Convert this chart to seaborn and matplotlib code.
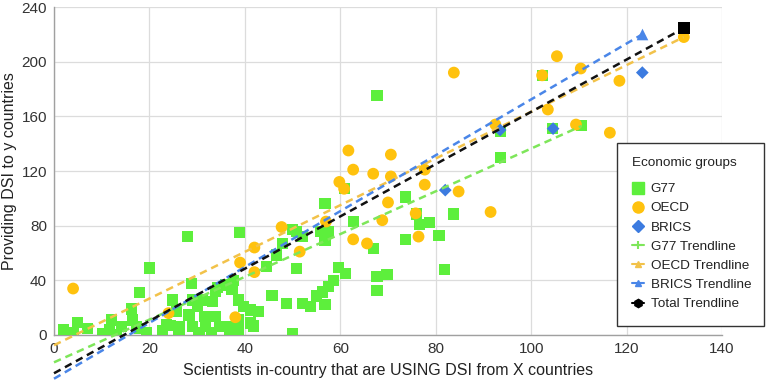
import numpy as np
import pandas as pd
import matplotlib
matplotlib.use("Agg")
import matplotlib.pyplot as plt
from matplotlib.lines import Line2D
from matplotlib.patches import Rectangle
import seaborn as sns

# ---------------- data ----------------
g77_x = [1.9, 5, 4, 7.1, 10.2, 12, 11.7, 13, 14.1, 16.5, 16.2, 17.9, 19.3, 17.2, 18, 20,
         22.7, 23.5, 24.9, 24.5, 28, 38.9, 28.9, 34.2, 36, 37.7, 33.9, 31.1, 30, 33.2,
         38.75, 39.8, 41.2, 42.9, 25.6, 28.3, 31.5, 33.9, 38.75, 41.2, 26.25, 29, 31.8,
         34.6, 36.7, 26.2, 30.4, 33.1, 36.7, 38.75, 41.9, 37.3, 29, 47.8, 49.9, 46.7,
         44.6, 45.7, 48.8, 49.9, 50.9, 52, 55.8, 57.5, 56.8, 56.8, 62.7, 66.9, 73.6,
         73.6, 75.9, 76.6, 78.7, 80.7, 83.7, 81.8, 50.9, 59.6, 61, 58.5, 57.5, 56.3,
         55.1, 56.8, 52, 53.7, 67.7, 69.8, 67.7, 60.8, 67.7, 93.5, 93.5, 104.5, 102.3,
         110.6]
g77_y = [4, 9, 1.5, 5, 1, 11, 4, 0, 6, 11, 19, 5, 2, 6, 31, 49,
         3.5, 8, 25.6, 7, 72, 75, 38, 35, 36.6, 40, 31.7, 25.6, 20.7, 24.4,
         25.6, 20.7, 18.3, 17, 17, 14.6, 13.4, 13.4, 11, 8.8, 6, 6, 6,
         6, 6, 1.5, 1.5, 1.5, 1.5, 3.7, 6.6, 33, 25.6, 67, 77, 58.5,
         50, 29, 23, 1.2, 75.6, 72, 75.6, 75.6, 69.5, 96, 83, 63.4, 101,
         70, 88.5, 81, 82, 73, 88.5, 48, 48.8, 49.5, 45, 40, 35.3, 31.5,
         28.5, 22, 23, 20.7, 42.6, 44.4, 32.4, 107, 175.5, 130, 149, 151, 190,
         153]

oecd_x = [4, 24, 38, 42, 39, 42, 47.7, 51.5, 59.8, 57, 62.7, 65.6, 70, 68.8, 76.4,
          61.7, 62.7, 66.9, 70.6, 70.6, 77.7, 77.7, 75.8, 60.8, 83.8, 84.8, 92.5,
          91.5, 105.4, 110.4, 118.5, 103.5, 109.4, 116.5, 132, 102.3]
oecd_y = [34, 16, 13, 64, 53, 46, 79, 61, 112, 83, 70, 67, 97, 84, 72,
          135, 121, 118, 132, 116, 121, 110, 89, 107, 192, 105, 154,
          90, 204, 195, 186, 165, 154, 148, 218, 190]

brics_x = [82, 93.5, 104.6, 123.3]
brics_y = [106, 150, 151, 192]

trend_names = ["G77 Trendline", "OECD Trendline", "BRICS Trendline", "Total Trendline"]
trend_x0 = [0, 0, 0, 0]
trend_x1 = [110.6, 132, 123.3, 132]
trend_y0 = [-20, -7.5, -32, -28]
trend_y1 = [153, 218, 220, 224.5]

x_ticks = [0, 20, 40, 60, 80, 100, 120, 140]
y_ticks = [0, 40, 80, 120, 160, 200, 240]

# ---------------- styling ----------------
sns.set_theme(style="whitegrid")
plt.rcParams["font.family"] = ["Liberation Sans", "DejaVu Sans"]

C_G77 = "#5DEF3C"
C_OECD = "#FFC20E"
C_BRICS = "#3C7BE0"
C_G77_T = "#7EE65A"
C_OECD_T = "#F2C24A"
C_BRICS_T = "#4A86E8"
C_TOT_T = "#111111"
trend_colors = [C_G77_T, C_OECD_T, C_BRICS_T, C_TOT_T]

df = pd.DataFrame({
    "x": g77_x + oecd_x + brics_x,
    "y": g77_y + oecd_y + brics_y,
    "group": ["G77"] * len(g77_x) + ["OECD"] * len(oecd_x) + ["BRICS"] * len(brics_x),
})

W, H = 766, 383
fig = plt.figure(figsize=(7.66, 3.83), dpi=100)
ax = fig.add_axes([54 / W, 1 - 335 / H, (722 - 54) / W, (335 - 7) / H])

sns.scatterplot(data=df, x="x", y="y", hue="group", style="group",
                hue_order=["G77", "OECD", "BRICS"],
                palette={"G77": C_G77, "OECD": C_OECD, "BRICS": C_BRICS},
                markers={"G77": "s", "OECD": "o", "BRICS": "D"},
                size="group", sizes={"G77": 64, "OECD": 72, "BRICS": 42},
                linewidth=0, ax=ax, legend=False, zorder=3)

for i, name in enumerate(trend_names):
    ax.plot([trend_x0[i], trend_x1[i]], [trend_y0[i], trend_y1[i]],
            color=trend_colors[i], lw=1.8, linestyle=(0, (3, 2)),
            clip_on=False, zorder=4)

# end markers of the trendlines
ax.scatter([trend_x1[2]], [trend_y1[2]], marker="^", s=70, color=C_BRICS_T,
           zorder=5, clip_on=False, linewidths=0)
ax.scatter([trend_x1[3]], [trend_y1[3]], marker="s", s=65, color="#000000",
           zorder=5, clip_on=False, linewidths=0)

ax.set_xlim(0, 140)
ax.set_ylim(0, 240)
ax.set_xticks(x_ticks)
ax.set_yticks(y_ticks)
ax.tick_params(axis="both", length=0, labelsize=11, colors="#333333", pad=5)
ax.grid(True, color="#DCDCDC", lw=0.9)
for s in ["top", "right"]:
    ax.spines[s].set_visible(False)
for s in ["left", "bottom"]:
    ax.spines[s].set_color("#A0A0A0")
    ax.spines[s].set_linewidth(1.0)

ax.set_xlabel("Scientists in-country that are USING DSI from X countries",
              fontsize=11.5, color="#222222", labelpad=5)
ax.set_ylabel("Providing DSI to y countries", fontsize=11.5, color="#222222",
              labelpad=3)

# legend frame drawn as a separate box
fig.patches.append(Rectangle((617 / W, 1 - 326 / H), (764 - 617) / W, (326 - 143) / H,
                             transform=fig.transFigure, facecolor="white",
                             edgecolor="#333333", lw=1.0, zorder=10))

handles = [
    Line2D([], [], ls="none", marker="s", ms=8, mfc=C_G77, mec=C_G77),
    Line2D([], [], ls="none", marker="o", ms=8, mfc=C_OECD, mec=C_OECD),
    Line2D([], [], ls="none", marker="D", ms=6.5, mfc=C_BRICS, mec=C_BRICS),
    Line2D([], [], color=C_G77_T, lw=1.5, marker="+", ms=6, mew=1.5),
    Line2D([], [], color=C_OECD_T, lw=1.5, marker="^", ms=5),
    Line2D([], [], color=C_BRICS_T, lw=1.5, marker="^", ms=5),
    Line2D([], [], color="#000000", lw=1.5, marker="h", ms=6),
]
labels = ["G77", "OECD", "BRICS"] + trend_names
leg = fig.legend(handles, labels, title="Economic groups", loc="upper left",
                 bbox_to_anchor=(632 / W, 1 - 157 / H), bbox_transform=fig.transFigure,
                 fontsize=9.7, title_fontsize=9.7, frameon=False,
                 handlelength=0.9, handletextpad=0.5, labelspacing=0.5,
                 borderpad=0, borderaxespad=0)
leg.set_zorder(11)
leg._legend_box.align = "left"
leg._legend_box.sep = 10
for t in leg.get_texts():
    t.set_color("#222222")
leg.get_title().set_color("#222222")

fig.savefig("out.png", dpi=100)
